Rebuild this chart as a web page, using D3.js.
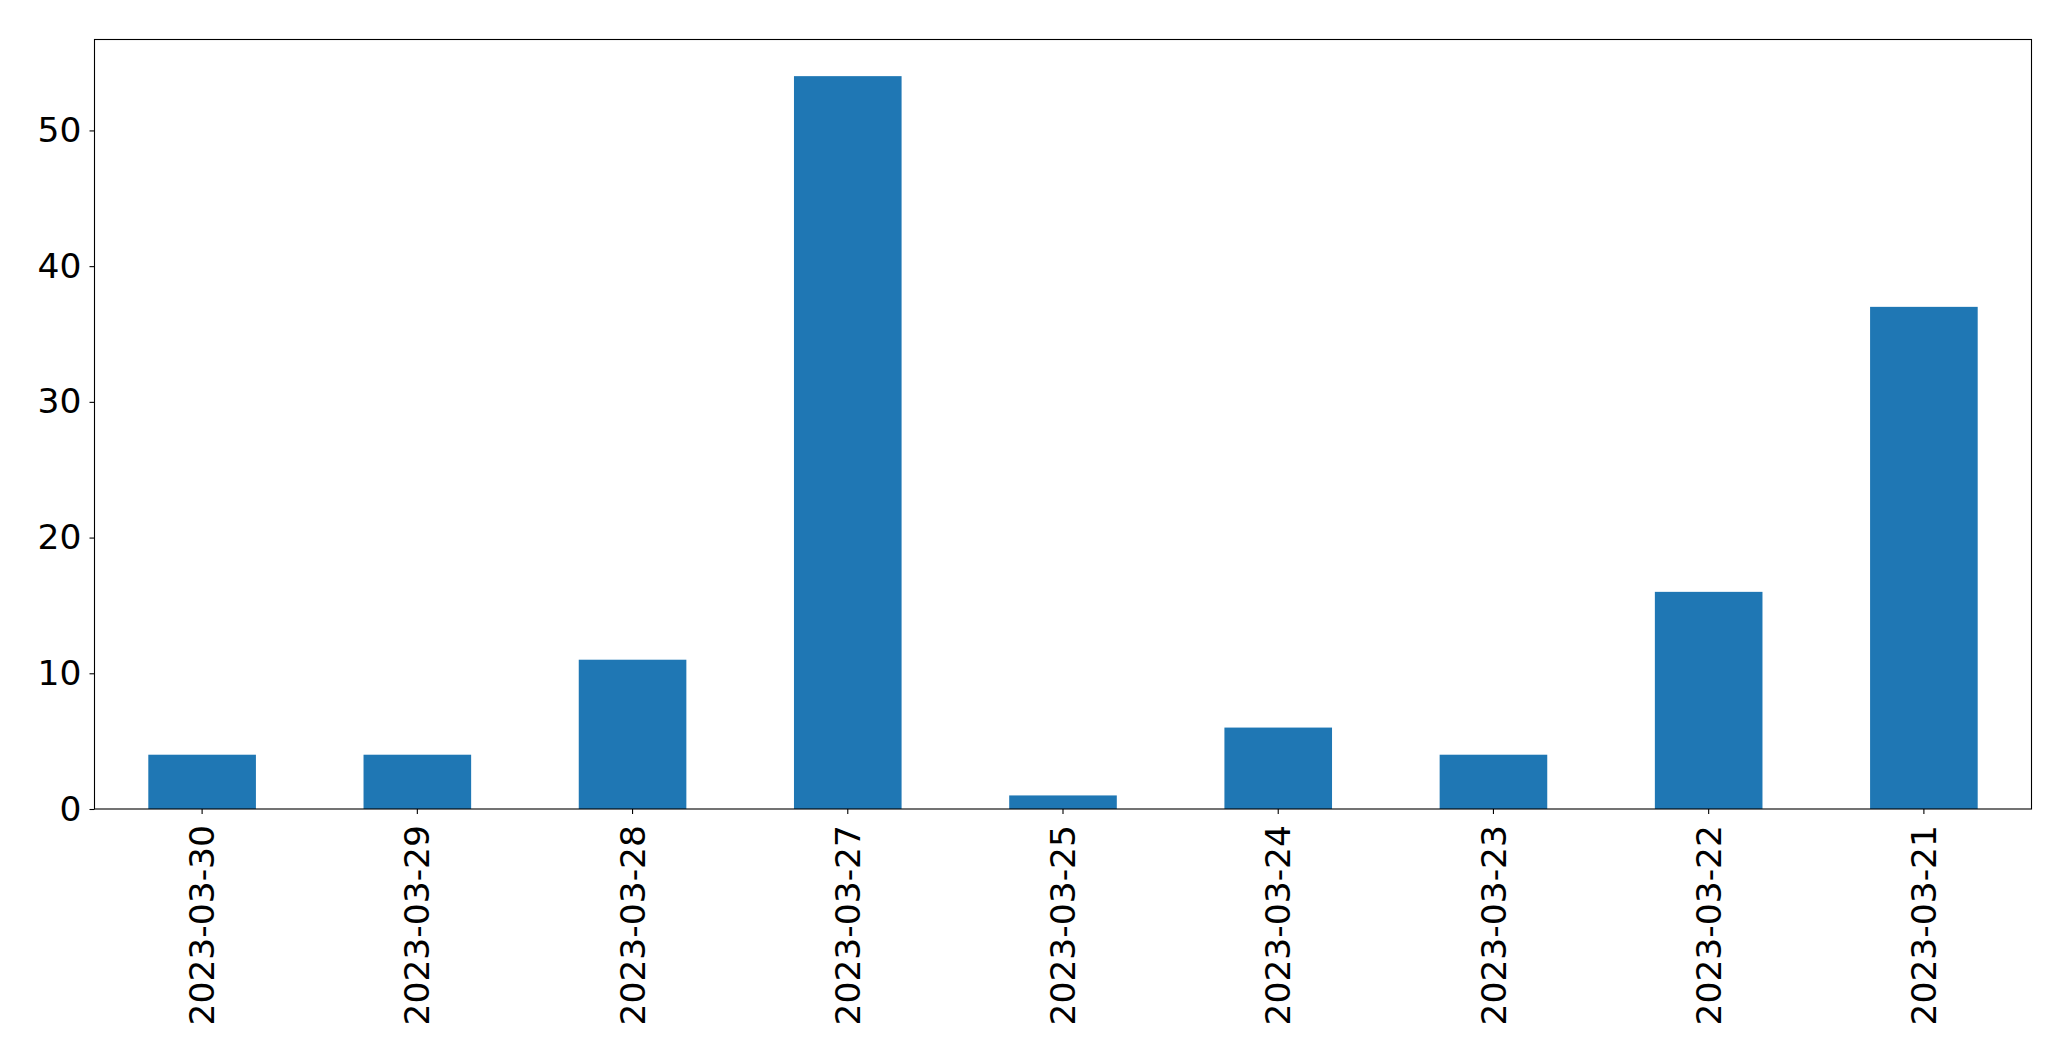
<!DOCTYPE html>
<html lang="en">
<head>
    <meta charset="UTF-8">
    <title>Counts per day</title>
    <script src="https://d3js.org/d3.v7.min.js"></script>
    <style>
        body { margin: 0; background: #fff; }
        svg text { font-family: "DejaVu Sans", sans-serif; }
    </style>
</head>
<body>
    <div id="chart"></div>
    <script>
        // values
        const dates = ["2023-03-30", "2023-03-29", "2023-03-28", "2023-03-27", "2023-03-25",
                       "2023-03-24", "2023-03-23", "2023-03-22", "2023-03-21"];
        const counts = [4, 4, 11, 54, 1, 6, 4, 16, 37];
        const yTicks = [0, 10, 20, 30, 40, 50];

        const W = 2071, H = 1061;
        const margin = { top: 39.5, right: 39.5, bottom: 252, left: 94.5 };
        const width = W - margin.left - margin.right;
        const height = H - margin.top - margin.bottom;

        const svg = d3.select("#chart").append("svg")
                      .attr("width", W)
                      .attr("height", H);

        const g = svg.append("g")
                     .attr("transform", `translate(${margin.left},${margin.top})`);

        const x = d3.scaleBand()
                    .domain(dates)
                    .range([0, width])
                    .paddingInner(0.5)
                    .paddingOuter(0.25);

        const y = d3.scaleLinear()
                    .domain([0, d3.max(counts) * 1.05])
                    .range([height, 0]);

        g.selectAll("rect.bar")
         .data(dates)
         .join("rect")
         .attr("class", "bar")
         .attr("x", d => x(d))
         .attr("width", x.bandwidth())
         .attr("y", (d, i) => y(counts[i]))
         .attr("height", (d, i) => height - y(counts[i]))
         .attr("fill", "#1f77b4");

        const xAxis = g.append("g")
                       .attr("transform", `translate(0,${height})`)
                       .call(d3.axisBottom(x).tickSize(5).tickSizeOuter(0));
        xAxis.select(".domain").remove();
        xAxis.selectAll("line").attr("stroke", "#000").attr("stroke-width", 1.1);
        xAxis.selectAll("text")
             .attr("fill", "#000")
             .style("font-size", "34.5px")
             .attr("transform", "rotate(-90)")
             .attr("text-anchor", "end")
             .attr("x", -16)
             .attr("y", 0)
             .attr("dy", "0.35em");

        const yAxis = g.append("g")
                       .call(d3.axisLeft(y).tickValues(yTicks).tickSize(5).tickPadding(8));
        yAxis.select(".domain").remove();
        yAxis.selectAll("line").attr("stroke", "#000").attr("stroke-width", 1.1);
        yAxis.selectAll("text")
             .attr("fill", "#000")
             .style("font-size", "34.5px");

        // frame
        g.append("rect")
         .attr("width", width)
         .attr("height", height)
         .attr("fill", "none")
         .attr("stroke", "#000")
         .attr("stroke-width", 1.1);
    </script>
</body>
</html>
